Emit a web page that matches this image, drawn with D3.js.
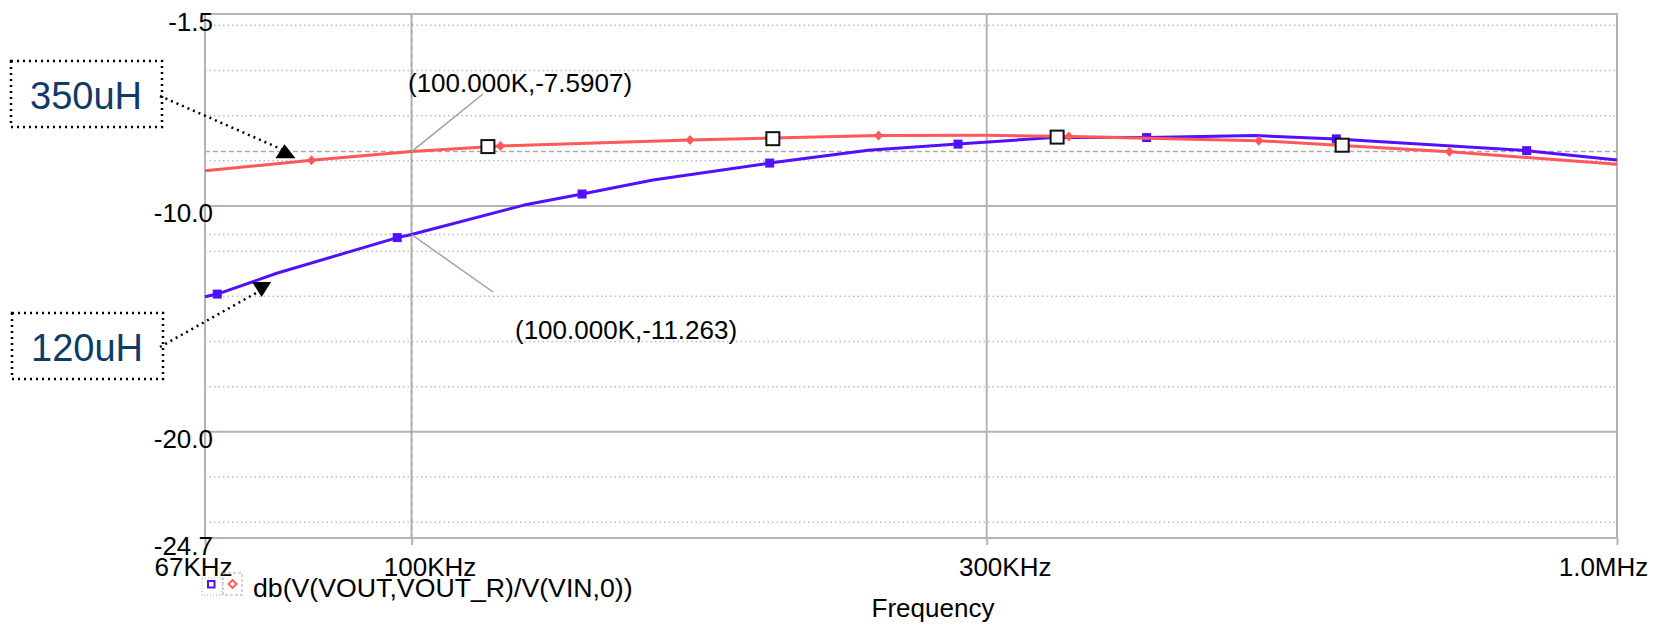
<!DOCTYPE html>
<html>
<head>
<meta charset="utf-8">
<script src="https://cdn.jsdelivr.net/npm/d3@7"></script>
<style>
  body { margin: 0; background: #fff; }
  svg { display: block; font-family: "Liberation Sans", Arial, sans-serif; }
</style>
</head>
<body>
<svg id="chart" width="1660" height="627"></svg>
<script>
// values: frequency in kHz, gain in dB
const redFreq = [67.4, 82.6, 100, 118.5, 170.2, 244, 300, 351, 504.5, 726, 1000];
const redDb   = [-8.44, -7.98, -7.5907, -7.34, -7.08, -6.88, -6.87, -6.92, -7.11, -7.60, -8.15];
const redMarkIdx = [1, 3, 4, 5, 7, 8, 9];

const blueFreq = [67.4, 69.0, 77.3, 97.3, 100, 124.6, 138.5, 158.6, 198.2, 239.2, 284, 343, 407.2, 500.4, 585, 841.5, 1000];
const blueDb   = [-14.02, -13.90, -12.98, -11.40, -11.263, -9.93, -9.47, -8.85, -8.10, -7.53, -7.26, -6.96, -6.97, -6.88, -7.03, -7.55, -7.96];
const blueMarkIdx = [1, 3, 6, 8, 10, 12, 14, 15];

// open square symbols along the 350uH trace
const symFreq = [115.7, 199.4, 343.2, 591.6];
const symDb   = [-7.37, -7.02, -6.95, -7.31];

const xTickVals = [67.4, 100, 300, 1000];
const xTickLabels = ["67KHz", "100KHz", "300KHz", "1.0MHz"];
const yTickVals = [-1.5, -10, -20, -24.7];
const yTickLabels = ["-1.5", "-10.0", "-20.0", "-24.7"];
const yMinor = [-2, -4, -6, -8, -12, -14, -16, -18, -22, -24];

const cursorFreq = 100;
const cursorDb = [-7.5907, -11.263];
const cursorLabels = ["(100.000K,-7.5907)", "(100.000K,-11.263)"];

const legendText = "db(V(VOUT,VOUT_R)/V(VIN,0))";

const svg = d3.select("#chart");
const plotL = 205, plotR = 1617, plotT = 14, plotB = 538;

const x = d3.scaleLog().domain([67.4, 1000]).range([plotL, plotR]);
const y = d3.scaleLinear().domain([-24.7, -1.5]).range([plotB, plotT]);

const gridCol = "#b4b4b4";

// minor dotted grid
svg.append("g").selectAll("line")
  .data(yMinor)
  .join("line")
  .attr("x1", plotL).attr("x2", plotR)
  .attr("y1", d => y(d)).attr("y2", d => y(d))
  .attr("stroke", "#bdbdbd")
  .attr("stroke-width", 1.5)
  .attr("stroke-dasharray", "1.5,3");

// cursor horizontal lines
svg.append("line")
  .attr("x1", plotL).attr("x2", plotR)
  .attr("y1", y(cursorDb[0])).attr("y2", y(cursorDb[0]))
  .attr("stroke", "#aaa").attr("stroke-width", 1.5)
  .attr("stroke-dasharray", "5,3");
svg.append("line")
  .attr("x1", plotL).attr("x2", plotR)
  .attr("y1", y(cursorDb[1])).attr("y2", y(cursorDb[1]))
  .attr("stroke", "#bdbdbd").attr("stroke-width", 1.5)
  .attr("stroke-dasharray", "1.5,3");

// major grid
svg.append("g").selectAll("line")
  .data([-10, -20])
  .join("line")
  .attr("x1", plotL).attr("x2", plotR)
  .attr("y1", d => y(d)).attr("y2", d => y(d))
  .attr("stroke", gridCol).attr("stroke-width", 2);
svg.append("g").selectAll("line")
  .data([100, 300])
  .join("line")
  .attr("x1", d => x(d)).attr("x2", d => x(d))
  .attr("y1", plotT).attr("y2", plotB)
  .attr("stroke", gridCol).attr("stroke-width", 2);
// cursor vertical overlay
svg.append("line")
  .attr("x1", x(cursorFreq)).attr("x2", x(cursorFreq))
  .attr("y1", plotT).attr("y2", plotB)
  .attr("stroke", "#9a9a9a").attr("stroke-width", 1)
  .attr("stroke-dasharray", "4,4");

// frame
svg.append("rect")
  .attr("x", plotL).attr("y", plotT)
  .attr("width", plotR - plotL).attr("height", plotB - plotT)
  .attr("fill", "none").attr("stroke", gridCol).attr("stroke-width", 2);

// x axis
const xAxis = svg.append("g")
  .attr("transform", `translate(0,${plotB})`)
  .call(d3.axisBottom(x).tickValues(xTickVals).tickSize(7).tickFormat((d, i) => xTickLabels[i]));
xAxis.select(".domain").remove();
xAxis.selectAll(".tick line").attr("stroke", gridCol).attr("stroke-width", 2);
xAxis.selectAll(".tick text")
  .attr("y", 38).attr("dy", 0)
  .attr("dx", (d, i) => i === 0 ? -12 : i === xTickVals.length - 1 ? -14 : 18)
  .attr("font-size", 26).attr("fill", "#000")
  .attr("font-family", "Liberation Sans, Arial, sans-serif");

// y axis
const yAxis = svg.append("g")
  .attr("transform", `translate(${plotL},0)`)
  .call(d3.axisLeft(y).tickValues(yTickVals).tickSize(0).tickFormat((d, i) => yTickLabels[i]));
yAxis.select(".domain").remove();
yAxis.selectAll(".tick text")
  .attr("x", 8).attr("dy", 0).attr("y", 16)
  .attr("font-size", 26).attr("fill", "#000")
  .attr("font-family", "Liberation Sans, Arial, sans-serif");

// traces
const line = d3.line().x(d => x(d[0])).y(d => y(d[1]));
const blue = d3.zip(blueFreq, blueDb);
const red = d3.zip(redFreq, redDb);
const blueCol = "#5210ff", redCol = "#ff5858";

svg.append("path").datum(blue)
  .attr("d", line).attr("fill", "none")
  .attr("stroke", blueCol).attr("stroke-width", 3);
svg.append("g").selectAll("rect")
  .data(blueMarkIdx.map(i => blue[i]))
  .join("rect")
  .attr("x", d => x(d[0]) - 4.5).attr("y", d => y(d[1]) - 4.5)
  .attr("width", 9).attr("height", 9)
  .attr("fill", blueCol);

svg.append("path").datum(red)
  .attr("d", line).attr("fill", "none")
  .attr("stroke", redCol).attr("stroke-width", 3);
svg.append("g").selectAll("path")
  .data(redMarkIdx.map(i => red[i]))
  .join("path")
  .attr("d", d => {
    const cx = x(d[0]), cy = y(d[1]);
    return `M${cx},${cy - 5}L${cx + 4.5},${cy}L${cx},${cy + 5}L${cx - 4.5},${cy}Z`;
  })
  .attr("fill", redCol);

// open square symbols
svg.append("g").selectAll("rect")
  .data(d3.zip(symFreq, symDb))
  .join("rect")
  .attr("x", d => x(d[0]) - 6.5).attr("y", d => y(d[1]) - 6.5)
  .attr("width", 13).attr("height", 13)
  .attr("fill", "#fff").attr("stroke", "#111").attr("stroke-width", 2);

// cursor labels with leader lines
const leaderEnds = [[483, 94], [493, 292]];
const labelPos = [[408, 92], [515, 339]];
cursorDb.forEach((v, i) => {
  svg.append("line")
    .attr("x1", x(cursorFreq)).attr("y1", y(v))
    .attr("x2", leaderEnds[i][0]).attr("y2", leaderEnds[i][1])
    .attr("stroke", "#a0a0a0").attr("stroke-width", 1.5);
  svg.append("text")
    .attr("x", labelPos[i][0]).attr("y", labelPos[i][1])
    .attr("font-size", 26).attr("fill", "#000")
    .text(cursorLabels[i]);
});

// annotation boxes (tips in data coords)
const notes = [
  { label: "350uH", box: [11, 61], from: [160, 96], tip: [78.6, -7.62], up: true },
  { label: "120uH", box: [12, 313], from: [160, 347], tip: [75.1, -13.68], up: false }
];
notes.forEach(n => {
  const g = svg.append("g");
  g.append("rect")
    .attr("x", n.box[0]).attr("y", n.box[1])
    .attr("width", 151).attr("height", 66)
    .attr("fill", "none").attr("stroke", "#000")
    .attr("stroke-width", 2.5).attr("stroke-dasharray", "2,4");
  g.append("text")
    .attr("x", n.box[0] + 75).attr("y", n.box[1] + 48)
    .attr("text-anchor", "middle")
    .attr("font-size", 38).attr("fill", "#0e3c69")
    .text(n.label);
  const cx = x(n.tip[0]), cy = y(n.tip[1]);
  const endY = n.up ? cy - 3 : cy + 3;
  g.append("line")
    .attr("x1", n.from[0]).attr("y1", n.from[1])
    .attr("x2", cx - 4).attr("y2", endY)
    .attr("stroke", "#000").attr("stroke-width", 2.5)
    .attr("stroke-dasharray", "2,4");
  const pts = n.up
    ? [[cx - 1, cy - 8], [cx + 10, cy + 6], [cx - 10, cy + 6]]
    : [[cx - 9.5, cy - 7], [cx + 9.5, cy - 7], [cx, cy + 8]];
  g.append("polygon").attr("points", pts.map(p => p.join(",")).join(" ")).attr("fill", "#000");
});

// legend
const lg = svg.append("g");
lg.append("rect").attr("x", 202).attr("y", 578).attr("width", 20).attr("height", 17)
  .attr("fill", "none").attr("stroke", "#aaa").attr("stroke-dasharray", "1,2");
lg.append("rect").attr("x", 223).attr("y", 573).attr("width", 19).attr("height", 22)
  .attr("fill", "none").attr("stroke", "#aaa").attr("stroke-dasharray", "3,2");
lg.append("rect").attr("x", 208).attr("y", 581).attr("width", 6.5).attr("height", 6.5)
  .attr("fill", "none").attr("stroke", blueCol).attr("stroke-width", 2);
lg.append("path").attr("d", "M232.5,580L236.5,584L232.5,588L228.5,584Z")
  .attr("fill", "none").attr("stroke", redCol).attr("stroke-width", 1.8);
lg.append("text").attr("x", 253).attr("y", 597)
  .attr("font-size", 26.7).attr("fill", "#000").text(legendText);

// axis title
svg.append("text")
  .attr("x", 933).attr("y", 617)
  .attr("text-anchor", "middle")
  .attr("font-size", 26).attr("fill", "#000")
  .text("Frequency");
</script>
</body>
</html>
